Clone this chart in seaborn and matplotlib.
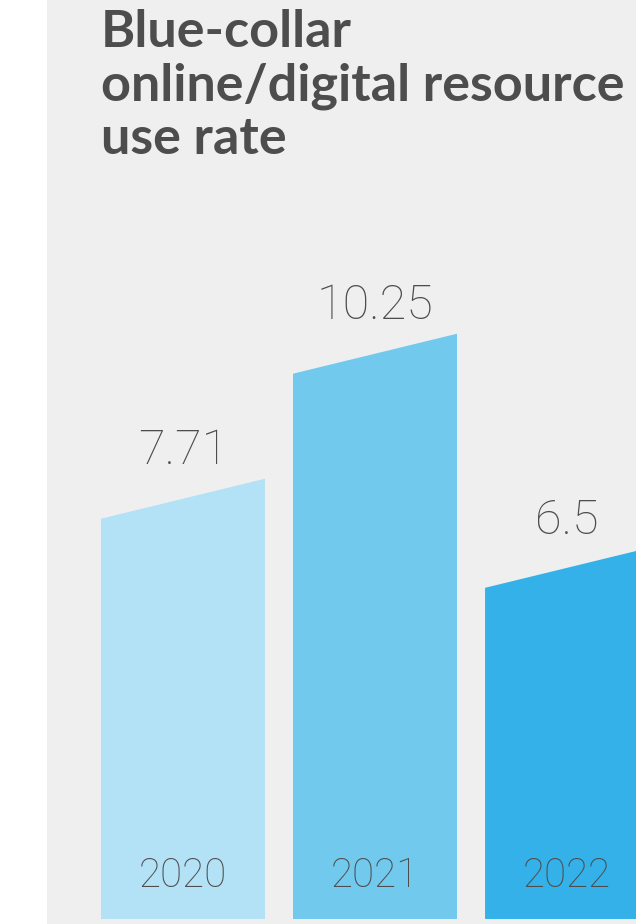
import seaborn as sns
import matplotlib.pyplot as plt
import pandas as pd
from matplotlib.patches import Polygon

# Données du graphique
years = ["2020", "2021", "2022"]
rates = [7.71, 10.25, 6.5]
bar_colors = ["#b3e1f5", "#71c9ee", "#33b1e8"]
title_lines = ["Blue-collar", "online/digital resource", "use rate"]

text_color = "#4d4d4d"
bg_color = "#efefef"


def main():
    df = pd.DataFrame({"year": years, "rate": rates})

    sns.set_style("white")
    fig = plt.figure(figsize=(6.36, 9.24), dpi=100, facecolor="white")
    ax = fig.add_axes([47 / 636, 0, 589 / 636, 1])
    ax.set_facecolor(bg_color)

    sns.barplot(data=df, x="year", y="rate", hue="year", palette=bar_colors,
                width=0.854, legend=False, ax=ax, saturation=1)

    ax.set_xlim(-0.708, 2.359)
    ax.set_ylim(-0.088, 16.095)

    # Remplacement des rectangles par des barres au sommet incliné
    slant = 0.70
    for p in list(ax.patches):
        x0, w, h = p.get_x(), p.get_width(), p.get_height()
        poly = Polygon([(x0, 0), (x0, h - slant), (x0 + w, h), (x0 + w, 0)],
                       closed=True, facecolor=p.get_facecolor(), edgecolor="none")
        p.remove()
        ax.add_patch(poly)
        cx = x0 + w / 2
        ax.text(cx, h + 0.25, f"{h:g}", ha="center", va="baseline",
                fontsize=35, color=text_color, family="Roboto", fontweight="light")

    for i, yr in enumerate(years):
        ax.text(i, 0.56, yr, ha="center", va="baseline",
                fontsize=29, color=text_color, family="Roboto", fontweight="light")

    # Titre sur trois lignes
    for line, base in zip(title_lines, [47, 100, 154]):
        fig.text(101 / 636, 1 - base / 924, line, ha="left", va="baseline",
                 fontsize=37.5, fontweight="bold", color=text_color, family="Lato")

    ax.set_xticks([])
    ax.set_yticks([])
    ax.set_xlabel("")
    ax.set_ylabel("")
    for s in ax.spines.values():
        s.set_visible(False)

    fig.savefig("out.png", dpi=100, facecolor="white")
    plt.close(fig)


main()
